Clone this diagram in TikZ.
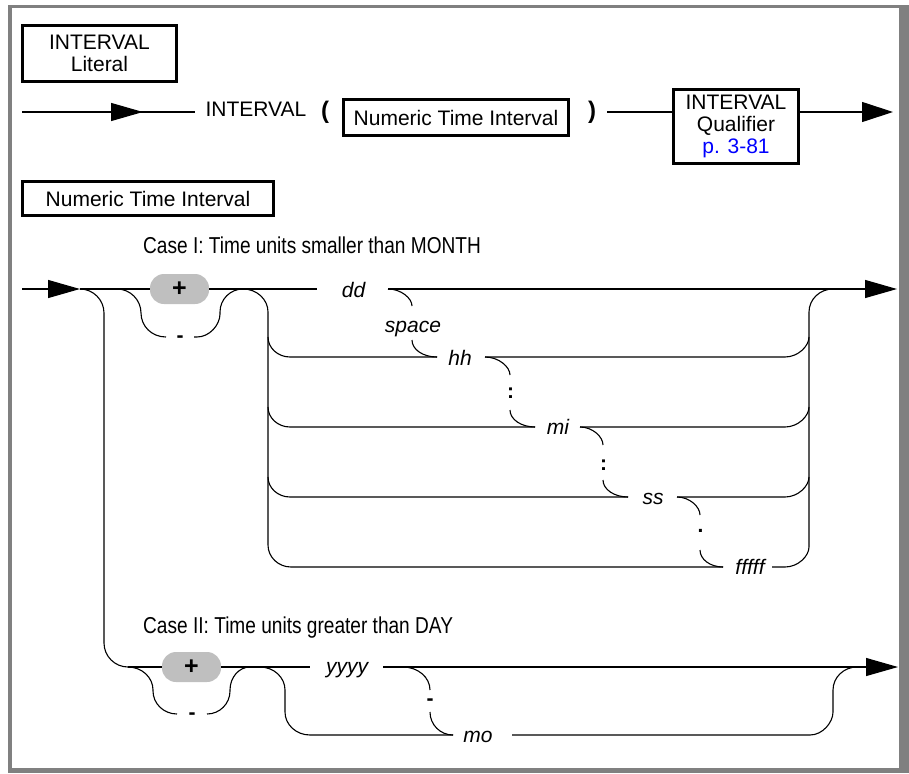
\documentclass[tikz,border=0pt]{standalone}
\usepackage{fontspec}
\setmainfont{Liberation Sans}
\usepackage{graphicx}
\usetikzlibrary{arrows.meta}
\definecolor{pillgray}{gray}{0.75}
\definecolor{framegray}{gray}{0.5}
\newcommand{\condtxt}[1]{\fontsize{23}{25}\selectfont\scalebox{0.83}[1]{#1}}
\begin{document}
\begin{tikzpicture}[x=1pt,y=-1pt,
  rr/.style={line width=1.1pt},
  tip/.style={-{Triangle[length=32pt,width=18pt]}},
  tipb/.style={-{Triangle[length=31pt,width=20pt]}},
  txt/.style={inner sep=0pt, font=\fontsize{21}{22}\selectfont},
  itl/.style={inner sep=0pt, font=\fontsize{21}{22}\selectfont\itshape},
  sym/.style={inner sep=0pt, font=\fontsize{21}{22}\selectfont\bfseries},
  par/.style={inner sep=0pt, font=\fontsize{24}{26}\selectfont\bfseries},
  boxn/.style={draw, line width=3pt, inner sep=0pt, align=center, font=\fontsize{21}{22}\selectfont},
  pill/.style={fill=pillgray, rounded corners=14pt, minimum width=59pt, minimum height=30pt, inner sep=0pt, font=\fontsize{25}{26}\selectfont\bfseries},
  casetitle/.style={inner sep=0pt, anchor=base west}
]
\useasboundingbox (0,0) rectangle (909,773);
% frame
\fill[framegray] (8,5) rectangle (909,8);
\fill[framegray] (8,5) rectangle (12,773);
\fill[framegray] (899,5) rectangle (909,773);
\fill[framegray] (8,768) rectangle (909,773);

% ---------- top: INTERVAL literal ----------
\node[boxn, minimum width=154pt, minimum height=56pt] (lit) at (99.5,53.5) {INTERVAL\\Literal};
\coordinate (s0) at (22,112);
\coordinate (a0) at (143,112);
\coordinate (k0) at (195,112);
\node[txt, anchor=base] (kw) at (256,117) {INTERVAL};
\node[par, anchor=base] (lp) at (325,118) {(};
\node[boxn, minimum width=225pt, minimum height=36pt] (nti1) at (456,117.5) {Numeric Time Interval};
\node[par, anchor=base] (rp) at (592,118) {)};
\coordinate (r0) at (607,112);
\node[boxn, minimum width=125pt, minimum height=74pt] (qual) at (736,126.5) {INTERVAL\\Qualifier\\\textcolor{blue}{p. 3-81}};
\coordinate (e0) at (893,112);
\draw[rr] (s0) -- (k0);
\draw[rr, tip] (s0) -- (a0);
\draw[rr] (r0) -- (qual.west |- r0);
\draw[rr, tipb] (qual.east |- e0) -- (e0);

\node[boxn, minimum width=251pt, minimum height=34pt] (nti2) at (148,198.5) {Numeric Time Interval};

% ---------- Case I ----------
\node[casetitle] (case1) at (143,253) {\condtxt{Case I: Time units smaller than MONTH}};
\coordinate (in1) at (22,289);
\coordinate (at1) at (80,289);
\node[pill] (p1) at (179.5,289) {+};
\node[sym, anchor=base] (m1) at (180,342.5) {-};
\coordinate (ddL) at (317,289);
\coordinate (ddR) at (388,289);
\coordinate (o1) at (897,289);
\node[itl, anchor=base] (dd) at (353.5,297) {dd};
\node[itl, anchor=base] (spc) at (413,332) {space};
\node[itl, anchor=base] (hh) at (460,365) {hh};
\node[sym, anchor=base] (col1) at (510.5,398) {:};
\node[itl, anchor=base] (mi) at (558,434) {mi};
\node[sym, anchor=base] (col2) at (603.5,470) {:};
\node[itl, anchor=base] (ss) at (653,504) {ss};
\node[sym, anchor=base] (dot1) at (700.5,532) {.};
\node[itl, anchor=base] (ff) at (750,574) {fffff};

\draw[rr, tip] (in1) -- (at1);
\draw[rr] (at1) -- (p1.west);
\draw[rr] (p1.east) -- (ddL);
\draw[rr, tip] (ddR) -- (o1);
% sign bypass
\draw[rr] (117,289) .. controls (130.2,289) and (141,299.8) .. (141,313)
  .. controls (141,326.2) and (151.8,337) .. (166,337);
\draw[rr] (194,337) -- (197,337) .. controls (209.7,337) and (220,324.7) .. (220,314)
  -- (220,312) .. controls (220,299.3) and (230.3,289) .. (243,289);
% left fork down to case II
\draw[rr] (at1) .. controls (93.2,289) and (104,299.8) .. (104,313)
  -- (104,643) .. controls (104,656.2) and (114.8,667) .. (128,667);
% right fork (vertical at x=268)
\draw[rr] (243,289) .. controls (256.8,289) and (268,299.3) .. (268,312)
  -- (268,545) .. controls (268,557.1) and (278.3,567) .. (291,567) -- (723,567);
\draw[rr] (268,337) .. controls (268,348) and (277.9,357) .. (290,357) -- (437,357);
\draw[rr] (268,407) .. controls (268,418) and (277.9,427) .. (290,427) -- (535,427);
\draw[rr] (268,477) .. controls (268,488) and (277.9,497) .. (290,497) -- (628,497);
% drops
\draw[rr] (ddR) .. controls (401.2,289) and (412,298.4) .. (412,306);
\draw[rr] (412,340) .. controls (412,349.4) and (422.8,357) .. (437,357);
\draw[rr] (485,357) .. controls (498.8,357) and (510,366.9) .. (510,375);
\draw[rr] (510,410) .. controls (510,419.4) and (521.2,427) .. (535,427);
\draw[rr] (580,427) .. controls (592.7,427) and (603,436.9) .. (603,445);
\draw[rr] (603,480) .. controls (603,489.4) and (614.2,497) .. (628,497);
\draw[rr] (677,497) .. controls (689.7,497) and (700,506.9) .. (700,515);
\draw[rr] (700,550) .. controls (700,559.4) and (710.3,567) .. (723,567);
% right merge
\draw[rr] (485,357) -- (785,357) .. controls (798.2,357) and (809,346) .. (809,337);
\draw[rr] (580,427) -- (785,427) .. controls (798.2,427) and (809,416) .. (809,407);
\draw[rr] (677,497) -- (785,497) .. controls (798.2,497) and (809,486) .. (809,477);
\draw[rr] (772,567) -- (785,567) .. controls (798.2,567) and (809,556) .. (809,547)
  -- (809,312) .. controls (809,299.3) and (819.8,289) .. (833,289);

% ---------- Case II ----------
\node[casetitle] (case2) at (143,633) {\condtxt{Case II: Time units greater than DAY}};
\node[pill] (p2) at (191.5,667) {+};
\node[sym, anchor=base] (m2) at (192,719.5) {-};
\node[itl, anchor=base] (yy) at (347,673) {yyyy};
\node[sym, anchor=base] (m3) at (430,705.5) {-};
\node[itl, anchor=base] (mo) at (478,742) {mo};
\coordinate (yyL) at (310,667);
\coordinate (yyR) at (383,667);
\coordinate (o2) at (898,667);
\draw[rr] (128,667) -- (p2.west);
\draw[rr] (p2.east) -- (yyL);
\draw[rr, tip] (yyR) -- (o2);
% sign bypass
\draw[rr] (128,667) .. controls (141.8,667) and (153,677.3) .. (153,690)
  -- (153,691) .. controls (153,703.7) and (163.8,714) .. (177,714);
\draw[rr] (207,714) .. controls (219.7,714) and (230,703.7) .. (230,691)
  -- (230,690) .. controls (230,677.3) and (239,667) .. (250,667);
% second fork
\draw[rr] (260,667) .. controls (273.8,667) and (285,677.3) .. (285,690)
  -- (285,712) .. controls (285,724.7) and (296.2,735) .. (310,735) -- (453,735);
% drop yyyy -> mo
\draw[rr] (403,667) .. controls (417.9,667) and (430,677.3) .. (430,690);
\draw[rr] (430,712) .. controls (430,724.7) and (440.3,735) .. (453,735);
% merge
\draw[rr] (512,735) -- (810,735) .. controls (822.7,735) and (833,722.3) .. (833,712)
  -- (833,690) .. controls (833,677.3) and (843.8,667) .. (857,667);
\end{tikzpicture}
\end{document}
